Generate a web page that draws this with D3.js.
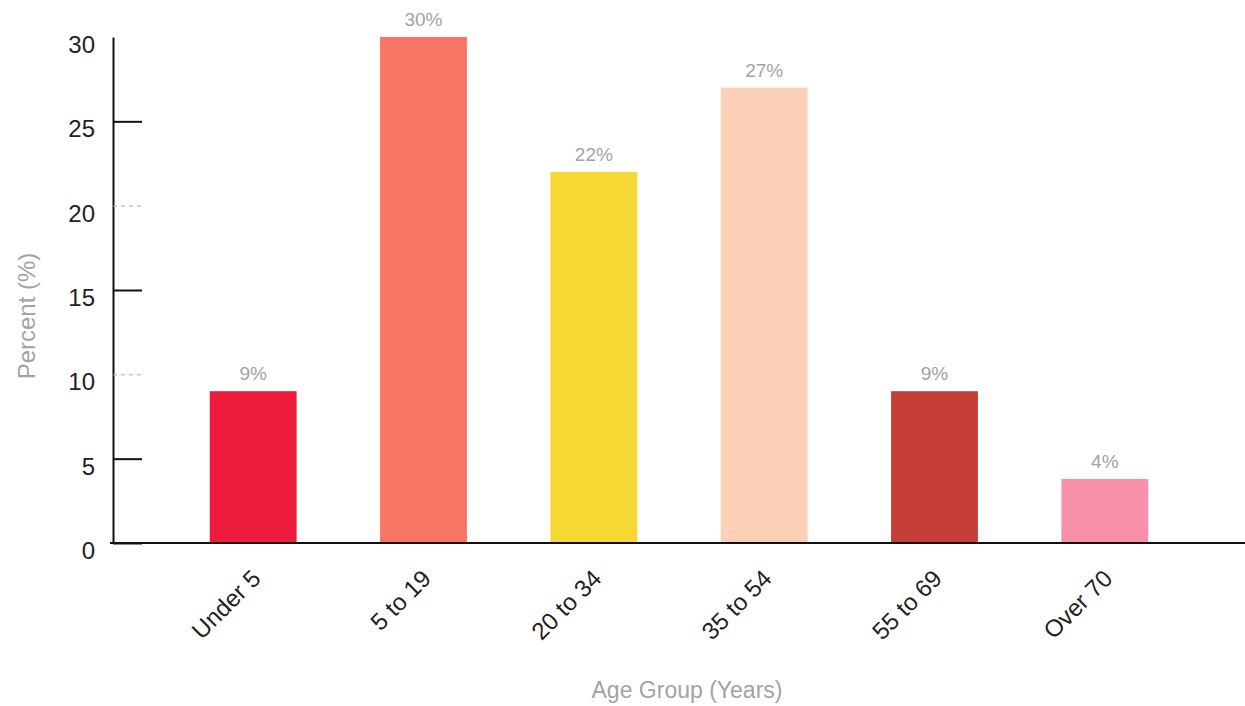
<!DOCTYPE html>
<html>
<head>
<meta charset="utf-8">
<script src="https://cdn.jsdelivr.net/npm/d3@7"></script>
<style>
    body { margin: 0; background: #fff; }
    text { font-family: "Liberation Sans", Arial, sans-serif; }
</style>
</head>
<body>
<div class="canvas"></div>
<script>
// Data
const groups = ['Under 5', '5 to 19', '20 to 34', '35 to 54', '55 to 69', 'Over 70'];
const percents = [9, 30, 22, 27, 9, 3.8];
const colors = ['#ee1b3d', '#f97664', '#f6d733', '#fbd0b6', '#c63f37', '#f790a8'];
const yTicks = [0, 5, 10, 15, 20, 25, 30];

// Dimensions
const dims = { width: 1245, height: 706 };
const plot = { left: 113, right: 1245, top: 37, bottom: 543 };

const svg = d3.select('.canvas')
    .append('svg')
    .attr('width', dims.width)
    .attr('height', dims.height);

// Scales
const x = d3.scaleBand()
    .domain(groups)
    .range([168, 1190])
    .paddingInner(0.49)
    .paddingOuter(0.245);

const y = d3.scaleLinear()
    .domain([0, 30])
    .range([plot.bottom, plot.top]);

// Bars
svg.append('g')
    .selectAll('rect')
    .data(groups)
    .enter()
    .append('rect')
        .attr('x', d => x(d))
        .attr('y', (d, i) => y(percents[i]))
        .attr('width', x.bandwidth())
        .attr('height', (d, i) => y(0) - y(percents[i]))
        .attr('fill', (d, i) => colors[i]);

// Value labels
svg.append('g')
    .selectAll('text')
    .data(groups)
    .enter()
    .append('text')
        .attr('x', d => x(d) + x.bandwidth() / 2)
        .attr('y', (d, i) => y(percents[i]) - 11)
        .attr('text-anchor', 'middle')
        .attr('font-size', 19)
        .attr('fill', '#a3a3a3')
        .text((d, i) => Math.round(percents[i]) + '%');

// Y axis
const yAxis = d3.axisLeft(y)
    .tickValues(yTicks)
    .tickSizeInner(-29)
    .tickSizeOuter(0)
    .tickPadding(18);

const yG = svg.append('g')
    .attr('transform', `translate(${plot.left}, 0)`)
    .call(yAxis);

yG.select('.domain').attr('stroke', '#111').attr('stroke-width', 2);
yG.selectAll('.tick text')
    .attr('font-size', 24)
    .attr('fill', '#222')
    .attr('dy', '0.65em');
yG.selectAll('.tick line')
    .attr('stroke', '#111')
    .attr('stroke-width', 2);
yG.selectAll('.tick')
    .filter(d => d === 10 || d === 20)
    .select('line')
        .attr('stroke', '#b0b0b0')
        .attr('stroke-width', 1)
        .attr('stroke-dasharray', '4,4')
        .attr('x2', 32);
yG.selectAll('.tick')
    .filter(d => d === 30)
    .select('line')
        .remove();

// X axis
const xAxis = d3.axisBottom(x)
    .tickSize(0)
    .tickPadding(0);

const xG = svg.append('g')
    .attr('transform', `translate(0, ${plot.bottom})`)
    .call(xAxis);

xG.select('.domain').remove();
xG.append('line')
    .attr('x1', plot.left - 3)
    .attr('x2', plot.right)
    .attr('stroke', '#111')
    .attr('stroke-width', 2);

xG.selectAll('.tick text')
    .attr('font-size', 24)
    .attr('fill', '#222')
    .attr('text-anchor', 'end')
    .attr('dy', 0)
    .attr('transform', 'translate(9, 37) rotate(-45)');

// Axis titles
svg.append('text')
    .attr('x', 687)
    .attr('y', 698)
    .attr('text-anchor', 'middle')
    .attr('font-size', 23)
    .attr('fill', '#a3a3a3')
    .text('Age Group (Years)');

svg.append('text')
    .attr('transform', 'translate(35, 316) rotate(-90)')
    .attr('text-anchor', 'middle')
    .attr('font-size', 24)
    .attr('fill', '#a3a3a3')
    .text('Percent (%)');
</script>
</body>
</html>
